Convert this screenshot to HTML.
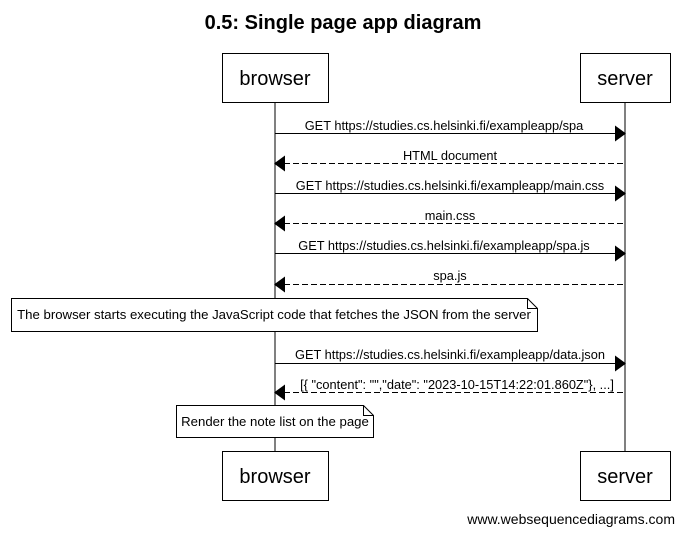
<!DOCTYPE html>
<html><head><meta charset="utf-8"><style>
html,body{margin:0;padding:0;background:#fff;}
svg{display:block;font-family:"Liberation Sans",Arial,sans-serif;}
</style></head><body>
<svg width="685" height="534" viewBox="0 0 685 534" xmlns="http://www.w3.org/2000/svg">
<text x="343" y="29" text-anchor="middle" font-size="20" font-weight="bold">0.5: Single page app diagram</text>
<line x1="275" y1="102" x2="275" y2="451" stroke="#000"/>
<line x1="625" y1="102" x2="625" y2="451" stroke="#000"/>
<g fill="#fff" stroke="#000">
<rect x="222.5" y="53.5" width="106" height="49"/>
<rect x="580.5" y="53.5" width="90" height="49"/>
<rect x="222.5" y="451.5" width="106" height="49"/>
<rect x="580.5" y="451.5" width="90" height="49"/>
</g>
<g font-size="20" text-anchor="middle">
<text x="275" y="85">browser</text><text x="625" y="85">server</text>
<text x="275" y="483">browser</text><text x="625" y="483">server</text>
</g>
<g stroke="#000">
<line x1="275" y1="133.5" x2="616" y2="133.5"/>
<line x1="284" y1="163.5" x2="625" y2="163.5" stroke-dasharray="6,3"/>
<line x1="275" y1="193.5" x2="616" y2="193.5"/>
<line x1="284" y1="223.5" x2="625" y2="223.5" stroke-dasharray="6,3"/>
<line x1="275" y1="253.5" x2="616" y2="253.5"/>
<line x1="284" y1="284.5" x2="625" y2="284.5" stroke-dasharray="6,3"/>
<line x1="275" y1="363.5" x2="616" y2="363.5"/>
<line x1="284" y1="392.5" x2="625" y2="392.5" stroke-dasharray="6,3"/>
</g>
<g fill="#000">
<polygon points="615,125.5 626,133.5 615,141.5"/>
<polygon points="285,155.5 274,163.5 285,171.5"/>
<polygon points="615,185.5 626,193.5 615,201.5"/>
<polygon points="285,215.5 274,223.5 285,231.5"/>
<polygon points="615,245.5 626,253.5 615,261.5"/>
<polygon points="285,276.5 274,284.5 285,292.5"/>
<polygon points="615,355.5 626,363.5 615,371.5"/>
<polygon points="285,384.5 274,392.5 285,400.5"/>
</g>
<g font-size="12.8" text-anchor="middle">
<text x="444" y="130">GET https://studies.cs.helsinki.fi/exampleapp/spa</text>
<text x="450" y="160">HTML document</text>
<text x="450" y="190">GET https://studies.cs.helsinki.fi/exampleapp/main.css</text>
<text x="450" y="220">main.css</text>
<text x="444" y="250">GET https://studies.cs.helsinki.fi/exampleapp/spa.js</text>
<text x="450" y="280">spa.js</text>
<text x="450" y="359">GET https://studies.cs.helsinki.fi/exampleapp/data.json</text>
<text x="457" y="389">[{ "content": "","date": "2023-10-15T14:22:01.860Z"}, ...]</text>
</g>
<path d="M11.5 298.5 H527.5 L537.5 308.5 V331.5 H11.5 Z" fill="#fff" stroke="#000"/>
<path d="M527.5 298.5 V308.5 H537.5" fill="none" stroke="#000"/>
<text x="274" y="319" font-size="13.2" text-anchor="middle">The browser starts executing the JavaScript code that fetches the JSON from the server</text>
<path d="M176.5 405.5 H363.5 L373.5 415.5 V437.5 H176.5 Z" fill="#fff" stroke="#000"/>
<path d="M363.5 405.5 V415.5 H373.5" fill="none" stroke="#000"/>
<text x="275" y="426" font-size="13.2" text-anchor="middle">Render the note list on the page</text>
<text x="675" y="524" font-size="14" text-anchor="end">www.websequencediagrams.com</text>
</svg>
</body></html>
